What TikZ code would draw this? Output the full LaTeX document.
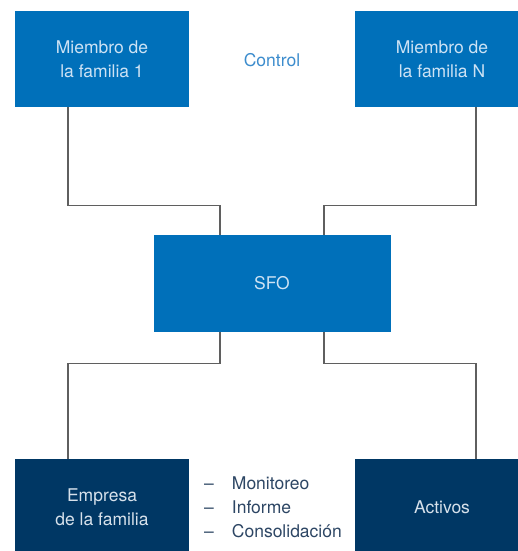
\documentclass[tikz,border=0pt]{standalone}
\usepackage{fontspec}
\setmainfont{TeX Gyre Heros}
\definecolor{sfoblue}{RGB}{0,112,186}
\definecolor{sfonavy}{RGB}{0,55,100}
\definecolor{boxtext}{RGB}{205,226,244}
\definecolor{navytext}{RGB}{215,225,235}
\definecolor{ctrltext}{RGB}{60,140,205}
\definecolor{listtext}{RGB}{45,70,100}
\definecolor{linkgray}{RGB}{95,95,95}
\tikzset{
  member/.style={fill=sfoblue, text=boxtext, minimum width=174pt, minimum height=96pt, align=center, inner sep=0pt},
  holding/.style={fill=sfonavy, text=navytext, minimum width=174pt, minimum height=96pt, align=center, inner sep=0pt},
  link/.style={draw=linkgray, line width=1.3pt}
}
\begin{document}
\begin{tikzpicture}[x=1pt, y=-1pt, font=\fontsize{17.5}{24}\selectfont]
\useasboundingbox (0,0) rectangle (518,551);
\clip (0,0) rectangle (518,551);

\node[member] (m1) at (102,59) {Miembro de\\la familia 1};
\node[member] (mN) at (442,59) {Miembro de\\la familia N};
\node[text=ctrltext] (ctrl) at (272,60) {Control};

\node[fill=sfoblue, text=boxtext, minimum width=237pt, minimum height=97pt, inner sep=0pt] (sfo) at (272,283.5) {SFO};

\node[holding] (emp) at (102,507) {Empresa\\de la familia};
\node[holding] (act) at (442,507) {Activos};
\node[text=listtext, anchor=west, align=left, inner sep=0pt] (tasks) at (204,507)
  {–\hspace{18pt}Monitoreo\\–\hspace{18pt}Informe\\–\hspace{18pt}Consolidación};

\draw[link] ([xshift=-34pt]m1.south) -- ++(0,98) -| ([xshift=-52pt]sfo.north);
\draw[link] ([xshift=34pt]mN.south) -- ++(0,98) -| ([xshift=52pt]sfo.north);
\draw[link] ([xshift=-52pt]sfo.south) -- ++(0,31) -| ([xshift=-34pt]emp.north);
\draw[link] ([xshift=52pt]sfo.south) -- ++(0,31) -| ([xshift=34pt]act.north);

\end{tikzpicture}
\end{document}
